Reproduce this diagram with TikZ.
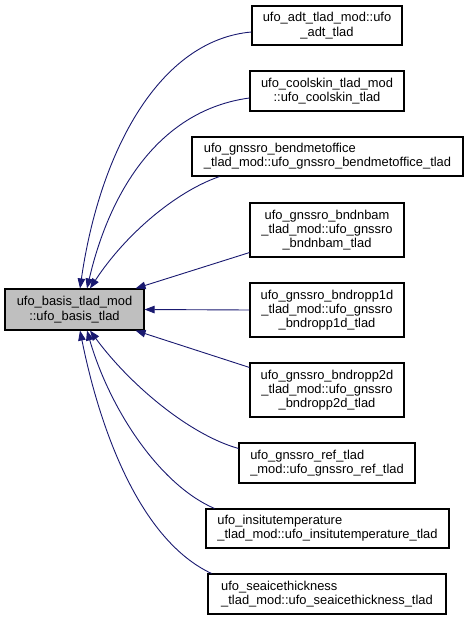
\documentclass[tikz,border=0pt]{standalone}
\usepackage{fontspec}
\setmainfont{Liberation Sans}
\usetikzlibrary{arrows.meta,calc}
\definecolor{edgeblue}{HTML}{191970}
\definecolor{basegray}{HTML}{BFBFBF}
\begin{document}
\begin{tikzpicture}[x=1pt,y=-1pt,
  box/.style={draw=black,line width=1.1pt,fill=white,inner sep=0pt,align=center,
    font=\fontsize{12.9}{14.3}\selectfont},
  lbox/.style={box,align=left},
  edge/.style={draw=edgeblue,line width=0.9pt,-{Triangle[length=10pt,width=7.5pt]},fill=none},
]
\useasboundingbox (0,0) rectangle (468,620);
\node[box,fill=basegray,minimum width=139pt,minimum height=41pt] (base) at (74.5,309.5) {ufo\_basis\_tlad\_mod\\::ufo\_basis\_tlad};
\node[box,minimum width=150pt,minimum height=39pt] (adt) at (327,25.5) {ufo\_adt\_tlad\_mod::ufo\\\_adt\_tlad};
\node[box,minimum width=154pt,minimum height=40pt] (cool) at (327,91) {ufo\_coolskin\_tlad\_mod\\::ufo\_coolskin\_tlad};
\node[lbox,minimum width=271pt,minimum height=39pt] (bend) at (327.5,156.5) {ufo\_gnssro\_bendmetoffice\\\_tlad\_mod::ufo\_gnssro\_bendmetoffice\_tlad};
\node[box,minimum width=154pt,minimum height=54pt] (nbam) at (327,230) {ufo\_gnssro\_bndnbam\\\_tlad\_mod::ufo\_gnssro\\\_bndnbam\_tlad};
\node[box,minimum width=154pt,minimum height=54pt] (opp1) at (327,310) {ufo\_gnssro\_bndropp1d\\\_tlad\_mod::ufo\_gnssro\\\_bndropp1d\_tlad};
\node[box,minimum width=154pt,minimum height=54pt] (opp2) at (327,390) {ufo\_gnssro\_bndropp2d\\\_tlad\_mod::ufo\_gnssro\\\_bndropp2d\_tlad};
\node[lbox,minimum width=176pt,minimum height=40pt] (ref) at (327,463) {ufo\_gnssro\_ref\_tlad\\\_mod::ufo\_gnssro\_ref\_tlad};
\node[lbox,minimum width=243pt,minimum height=39pt] (insitu) at (327.5,528.5) {ufo\_insitutemperature\\\_tlad\_mod::ufo\_insitutemperature\_tlad};
\node[lbox,minimum width=238pt,minimum height=40pt] (seaice) at (327,594) {ufo\_seaicethickness\\\_tlad\_mod::ufo\_seaicethickness\_tlad};
% edges
\draw[edge] ($(adt.west)+(0,6.5)$) .. controls (160,40) and (100,150) .. ($(base.north)+(5.5,0)$);
\draw[edge] ($(cool.west)+(0,7)$) .. controls (160,110) and (110,190) .. ($(base.north)+(12.5,0)$);
\draw[edge] ($(bend.south west)+(28,0)$) .. controls (175,192) and (125,235) .. ($(base.north)+(15.5,0)$);
\draw[edge] ($(nbam.south west)+(0,-5)$) -- ($(base.north east)+(-9,0)$);
\draw[edge] (opp1.west) -- (base.east);
\draw[edge] ($(opp2.north west)+(0,5)$) -- ($(base.south east)+(-9,0)$);
\draw[edge] ($(ref.north west)+(0,6)$) .. controls (190,435) and (130,385) .. ($(base.south)+(15.5,0)$);
\draw[edge] ($(insitu.north west)+(9,0)$) .. controls (160,485) and (110,410) .. ($(base.south)+(12.5,0)$);
\draw[edge] ($(seaice.north west)+(4,0)$) .. controls (140,540) and (100,430) .. ($(base.south)+(5.5,0)$);
\end{tikzpicture}
\end{document}
